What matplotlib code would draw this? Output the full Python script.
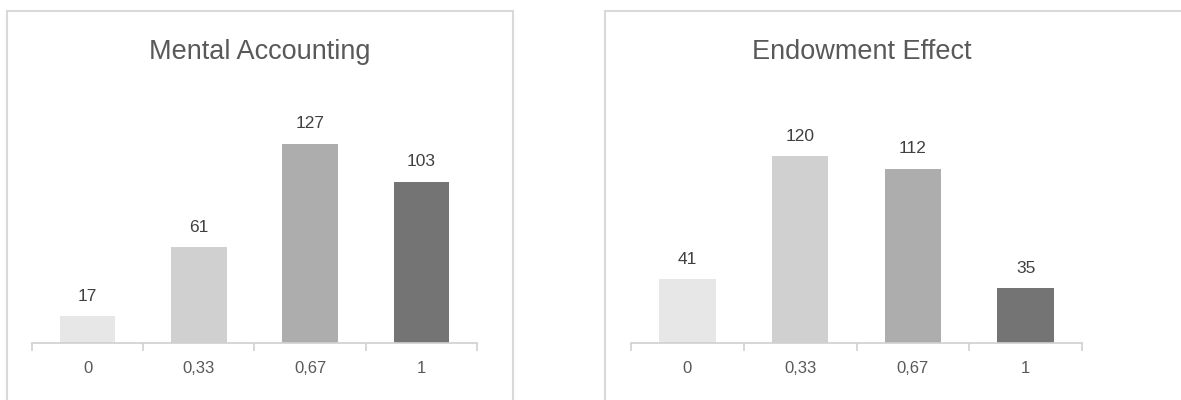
import matplotlib
matplotlib.use("Agg")
import matplotlib.pyplot as plt
from matplotlib.patches import Rectangle

categories = ["0", "0,33", "0,67", "1"]
mental_accounting = [17, 61, 127, 103]
endowment_effect = [41, 120, 112, 35]
titles = ["Mental Accounting", "Endowment Effect"]
bar_colors = ["#E7E7E7", "#D0D0D0", "#ADADAD", "#747474"]

plt.rcParams['font.family'] = ['Liberation Sans', 'DejaVu Sans']

W, H = 1181, 400
fig = plt.figure(figsize=(W / 100, H / 100), dpi=100)

def px_rect(x0, y0, x1, y1):
    return Rectangle((x0 / W, 1 - y1 / H), (x1 - x0) / W, (y1 - y0) / H,
                     transform=fig.transFigure, fill=False, edgecolor="#D9D9D9",
                     linewidth=1.5, clip_on=False)

fig.patches.append(px_rect(7, 11, 513, 420))
fig.patches.append(px_rect(605, 11, 1200, 420))

panels = [
    (mental_accounting, titles[0], (32, 477), 1.567, 260),
    (endowment_effect, titles[1], (631, 1082), 1.558, 862),
]
ymax = 140
axis_y = 343
for values, title, (xl, xr), scale, title_x in panels:
    h_px = ymax * scale
    ax = fig.add_axes([xl / W, (H - axis_y) / H, (xr - xl) / W, h_px / H])
    x = range(len(categories))
    bars = ax.bar(x, values, width=0.5, color=bar_colors)
    ax.set_xlim(-0.5, len(categories) - 0.5)
    ax.set_ylim(0, ymax)
    for s in ["top", "right", "left"]:
        ax.spines[s].set_visible(False)
    ax.spines["bottom"].set_color("#D0D0D0")
    ax.spines["bottom"].set_linewidth(1.2)
    ax.set_yticks([])
    ax.set_xticks(list(x))
    ax.set_xticklabels(categories, fontsize=12, color="#595959")
    ax.tick_params(axis="x", which="major", length=0, pad=13)
    ax.set_xticks([i - 0.5 for i in range(len(categories) + 1)], minor=True)
    ax.tick_params(axis="x", which="minor", length=6, color="#D0D0D0", width=1.2)
    ax.set_facecolor("none")
    for b, v in zip(bars, values):
        ax.annotate(str(v), (b.get_x() + b.get_width() / 2, v), xytext=(0, 9),
                    textcoords="offset points", ha="center", va="bottom",
                    fontsize=12.5, color="#404040")
    fig.text(title_x / W, 1 - 52 / H, title, ha="center", va="center",
             fontsize=19.5, color="#595959")

fig.savefig("out.png", dpi=100)
